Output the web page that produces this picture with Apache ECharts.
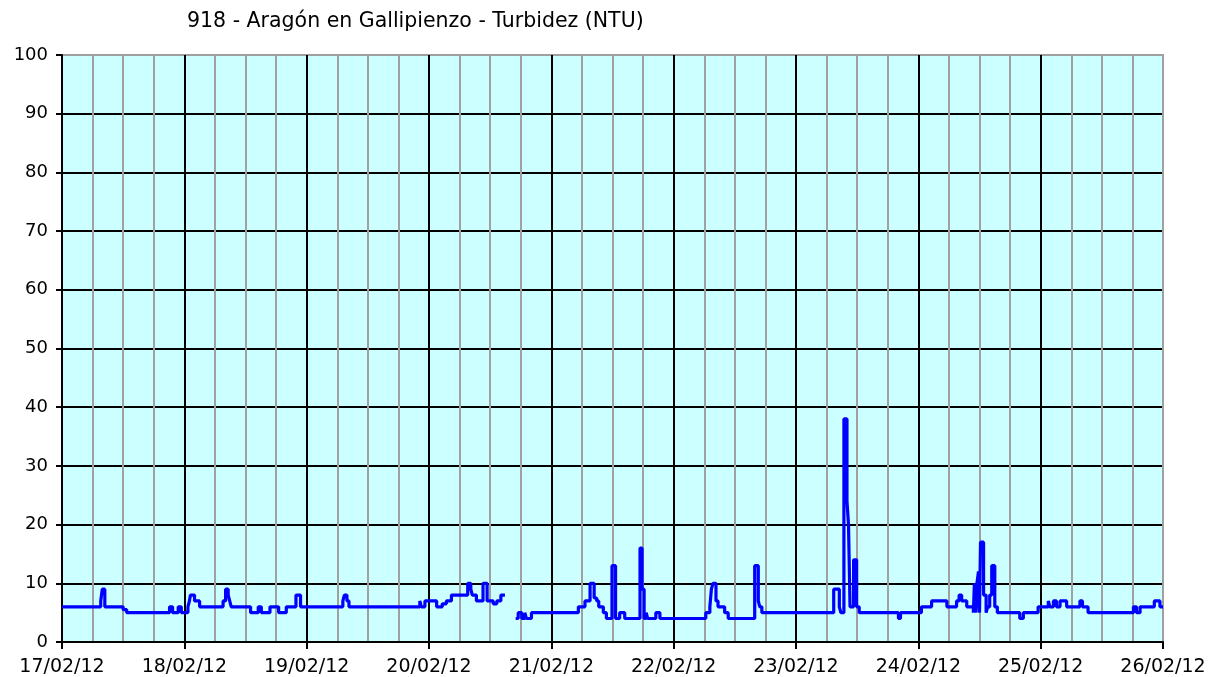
<!DOCTYPE html>
<html>
<head>
<meta charset="utf-8">
<script src="https://cdn.jsdelivr.net/npm/echarts@6/dist/echarts.min.js"></script>
<style>
html,body{margin:0;padding:0;background:#fff;}
#chart{width:1209px;height:677px;}
</style>
</head>
<body>
<div id="chart"></div>
<script>
// Title
var chartTitle = '918 - Aragón en Gallipienzo - Turbidez (NTU)';
// Day labels (one per 24 h)
var dayLabels = ['17/02/12','18/02/12','19/02/12','20/02/12','21/02/12','22/02/12','23/02/12','24/02/12','25/02/12','26/02/12'];
// Hours since 17/02/12 00:00 where the reading changes (value holds until next time)
var hours = [
  0, 7.6, 7.9, 8.4, 12.0, 12.7, 21.1, 21.7, 22.8, 23.4,
  24.7, 25.0, 25.2, 26.0, 27.0, 31.6, 32.1, 32.6, 32.9, 33.2,
  37.0, 38.5, 39.1, 40.8, 42.5, 44.0, 45.9, 46.8, 55.1, 55.4,
  55.9, 56.3, 70.2, 70.5, 71.2, 73.5, 74.6, 75.4, 76.4, 79.6,
  80.2, 80.5, 81.3, 82.6, 83.4, 84.6, 85.3, 86.1, 86.9,
  89.0, 89.5, 90.2, 90.8, 91.1, 92.1, 101.3, 102.6, 103.6, 104.4,
  104.9, 105.3, 106.2, 106.8, 107.9, 108.6, 109.4, 110.4, 113.4, 113.8,
  114.2, 114.6, 114.9, 116.5, 117.3, 126.3, 127.1, 127.4, 127.7, 128.3,
  128.7, 130.0, 130.7, 135.9, 136.6, 136.9, 137.3, 151.4, 152.5, 152.8,
  153.4, 154.0, 154.3, 154.6, 155.3, 155.9, 156.4, 164.1, 164.5, 168.6,
  170.6, 173.6, 175.5, 176.0, 176.5, 177.5, 178.8, 179.0, 179.3, 179.5,
  179.8, 180.0, 180.2, 180.8, 181.3, 181.6, 182.0, 182.4, 183.0, 183.5,
  187.9, 188.6, 191.5, 193.5, 193.8, 194.5, 195.1, 195.8, 197.1, 199.7,
  200.2, 201.3, 210.2, 210.8, 211.5, 214.3, 215.4, 216
];
// Turbidity (NTU); null = no data (gap)
var turbidity = [
  6, 7, 9, 6, 5.5, 5, 6, 5, 6, 5,
  6, 7, 8, 7, 6, 7, 9, 8, 7, 6,
  5, 6, 5, 6, 5, 6, 8, 6, 7, 8,
  7, 6, 7, 6, 7, 6, 6.5, 7, 8, 10,
  9, 8, 7, 10, 7, 6.5, 7, 8, null,
  4, 5, 4, 5, 4, 5, 6, 7, 10, 7.5,
  7, 6, 5, 4, 13, 4, 5, 4, 16, 9,
  4, 5, 4, 5, 4, 5, 6, 9, 10, 7,
  6, 5, 4, 13, 7, 6, 5, 9, 6, 5,
  38, 24, 20, 6, 14, 6, 5, 4, 5, 6,
  7, 6, 7, 8, 7, 6, 5, 10, 5, 10,
  12, 5, 17, 8, 5, 6, 8, 13, 6, 5,
  4, 5, 6, 7, 6, 7, 6, 7, 6, 7,
  6, 5, 6, 5, 6, 7, 6, 6
];
var yMax = 100, yStep = 10, xMax = 216;

var data = hours.map(function (h, i) {
  return turbidity[i] === null ? [h, null] : [h, turbidity[i]];
});

var font = 'DejaVu Sans';
var majorColors = [];
for (var i = 0; i < 9; i++) majorColors.push('#000000');
majorColors.push('#a0a0a0');
var yColors = [];
for (var j = 0; j < 10; j++) yColors.push('#000000');
yColors.push('#a0a0a0');

var chart = echarts.init(document.getElementById('chart'), null, {renderer: 'canvas'});
chart.setOption({
  animation: false,
  backgroundColor: '#ffffff',
  title: {
    text: chartTitle,
    left: 187, top: 11, padding: 0,
    textStyle: {fontFamily: font, fontSize: 20.5, fontWeight: 'normal', color: '#000'}
  },
  grid: {
    left: 62, top: 55, right: 46, bottom: 35,
    show: true, backgroundColor: '#ccffff', borderColor: '#a0a0a0', borderWidth: 2
  },
  xAxis: [
    {
      type: 'value', min: 0, max: xMax, interval: 6,
      axisLine: {show: false}, axisTick: {show: false}, axisLabel: {show: false},
      splitLine: {show: true, lineStyle: {color: '#a0a0a0', width: 2}}
    },
    {
      type: 'value', min: 0, max: xMax, interval: 24, position: 'bottom',
      axisLine: {show: true, onZero: false, lineStyle: {color: '#000', width: 2}},
      axisTick: {show: true, length: 7, lineStyle: {color: '#000', width: 2}},
      axisLabel: {
        show: true, margin: 16, fontFamily: font, fontSize: 19, color: '#000',
        formatter: function (v) { return dayLabels[Math.round(v / 24)] || ''; }
      },
      splitLine: {show: true, lineStyle: {color: majorColors, width: 2}}
    }
  ],
  yAxis: {
    type: 'value', min: 0, max: yMax, interval: yStep,
    axisLine: {show: true, lineStyle: {color: '#000', width: 2}},
    axisTick: {show: true, length: 6, lineStyle: {color: '#000', width: 2}},
    axisLabel: {margin: 14, fontFamily: font, fontSize: 18, color: '#000'},
    splitLine: {show: true, lineStyle: {color: yColors, width: 2}}
  },
  series: [{
    type: 'line',
    xAxisIndex: 1,
    data: data,
    step: 'end',
    showSymbol: false,
    connectNulls: false,
    lineStyle: {color: '#0000ff', width: 3.2},
    itemStyle: {color: '#0000ff'},
    z: 5
  }]
});
</script>
</body>
</html>
